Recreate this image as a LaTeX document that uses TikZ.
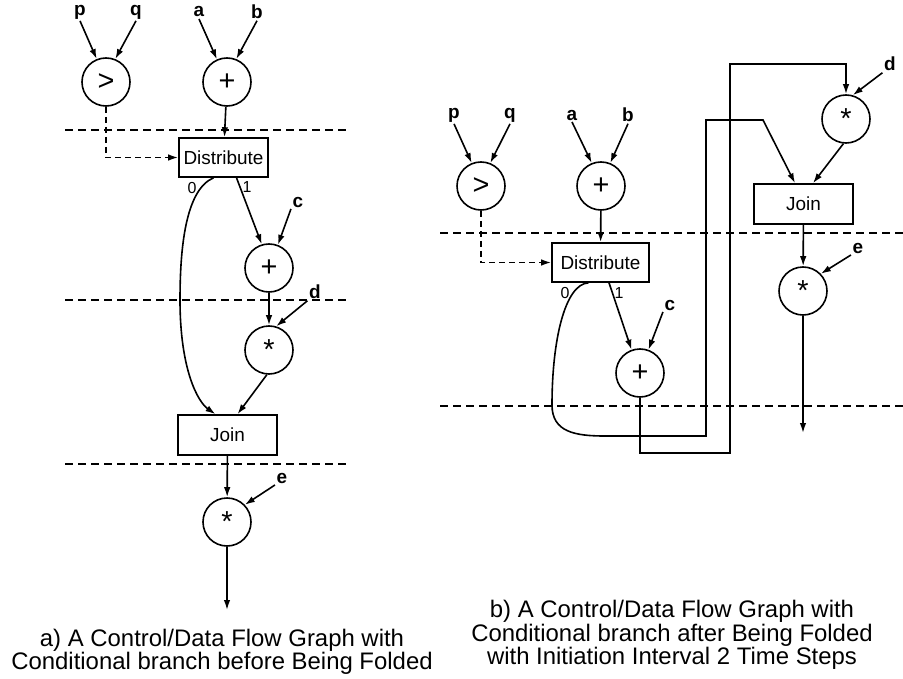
\documentclass[tikz,border=0pt]{standalone}
\usepackage{fontspec}
\setmainfont{Liberation Sans}
\usetikzlibrary{calc,arrows.meta}
\newcommand{\CapFont}{\fontsize{24}{20}\selectfont}
\newcommand{\BlkFont}{\fontsize{19}{20}\selectfont}
\newcommand{\LblFont}{\fontsize{19}{20}\selectfont\bfseries}
\newcommand{\OpFont}{\fontsize{29}{29}\selectfont}
\newcommand{\PortFont}{\fontsize{16}{18}\selectfont}
\newcommand{\Star}{\raisebox{-0.22em}{*}}

\begin{document}
\begin{tikzpicture}[x=1bp,y=-1bp, line width=1.6bp,
    opnode/.style={circle,draw,minimum size=48bp,inner sep=0pt,font=\OpFont},
    blk/.style={draw,minimum height=39bp,inner sep=0pt,font=\BlkFont},
    lbl/.style={inner sep=1bp,font=\LblFont},
    port/.style={inner sep=0pt,font=\PortFont},
    flow/.style={-{Latex[length=10bp,width=6.5bp]}},
    ctl/.style={flow,dash pattern=on 6bp off 4bp},
    stageline/.style={line width=1.3bp,dash pattern=on 8bp off 5bp}]
  \useasboundingbox (0,0) rectangle (903,679);
  % time step borders
  \foreach \yy in {130,300,464}{\draw[stageline] (65,\yy) -- (350,\yy);}
  \foreach \yy in {233,406}{\draw[stageline] (440,\yy) -- (903,\yy);}

  % a) before folding
  \foreach \nm/\xx in {p/80,q/136,a/199,b/257}{\node[lbl] (L\nm) at (\xx,12) {\nm};}
  \node[opnode] (Lgt) at (106,82) {>};
  \node[opnode] (Ladd) at (227,82) {+};
  \foreach \src/\dst/\ang in {p/gt/112,q/gt/68,a/add/114,b/add/68}{\draw[flow] (L\src.south) -- (L\dst.\ang);}
  \node[blk,minimum width=89bp] (Ldist) at (223.5,157.5) {Distribute};
  \node[port] (L0) at (192,188) {0};
  \node[port] (L1) at (247,187) {1};
  \node[opnode] (Laddc) at (269,268) {+};
  \node[opnode] (Lmuld) at (269,350) {\Star};
  \node[blk,minimum width=99bp,minimum height=40bp] (Ljoin) at (227.5,435) {Join};
  \node[opnode] (Lmule) at (227,522) {\Star};
  \node[lbl] (Lc) at (298,202) {c};
  \node[lbl] (Ld) at (315,292) {d};
  \node[lbl] (Le) at (282,478) {e};
  \coordinate (Lout) at (227,610);
  \draw[flow] (Ladd) -- (Ldist);
  \draw[ctl] (Lgt.south) |- (Ldist.west);
  \draw[flow] ($(Ldist.south)+(13,0)$) -- (Laddc.107);
  \draw[flow] (Lc.south west) -- (Laddc.69);
  \draw[flow] (Laddc) -- (Lmuld);
  \draw[flow] (Ld.south west) -- (Lmuld.73);
  \draw[flow] (Lmuld.265) -- ($(Ljoin.north)+(10,0)$);
  \draw[flow] ($(Ldist.south)+(-10,0)$) .. controls (185,190) and (180,250) .. (180,300)
    .. controls (180,370) and (198,402) .. ($(Ljoin.north)+(-12,0)$);
  \draw[flow] (Ljoin) -- (Lmule);
  \draw[flow] (Le.south west) -- (Lmule.44);
  \draw[flow] (Lmule) -- (Lout);

  % b) after folding
  \foreach \nm/\xx in {p/454,q/510,a/572,b/628}{\node[lbl] (R\nm) at (\xx,115) {\nm};}
  \node[opnode] (Rgt) at (481,186) {>};
  \node[opnode] (Radd) at (601,186) {+};
  \foreach \src/\dst/\ang in {p/gt/112,q/gt/68,a/add/112,b/add/68}{\draw[flow] (R\src.south) -- (R\dst.\ang);}
  \node[blk,minimum width=97bp] (Rdist) at (600.5,262.5) {Distribute};
  \node[port] (R0) at (565,293) {0};
  \node[port] (R1) at (619,293) {1};
  \node[opnode] (Raddc) at (640,373) {+};
  \node[opnode] (Rmuld) at (846,119) {\Star};
  \node[blk,minimum width=99bp,minimum height=40bp] (Rjoin) at (803.5,204) {Join};
  \node[opnode] (Rmule) at (803,291) {\Star};
  \node[lbl] (Rc) at (670,305) {c};
  \node[lbl] (Rd) at (890,64) {d};
  \node[lbl] (Re) at (858,248) {e};
  \coordinate (Rout) at (803,433);
  \draw[flow] (Radd) -- (Rdist);
  \draw[ctl] (Rgt.south) |- (Rdist.west);
  \draw[flow] ($(Rdist.south)+(8.5,0)$) -- (Raddc.110);
  \draw[flow] (Rc.south west) -- (Raddc.70);
  \draw[flow] (Raddc.south) |- (730,453) -- (730,64) -| (Rmuld.north);
  \draw[flow] ($(Rdist.south)+(-12,0)$) .. controls (565,284) and (552,340) .. (552,405)
    .. controls (552,432) and (575,436) .. (605,436) -| (706,120) -- (763,120) -- ($(Rjoin.north)+(-8.5,0)$);
  \draw[flow] (Rd.south west) -- (Rmuld.74);
  \draw[flow] (Rmuld.264) -- ($(Rjoin.north)+(9.5,0)$);
  \draw[flow] (Rjoin) -- (Rmule);
  \draw[flow] (Re.south west) -- (Rmule.44);
  \draw[flow] (Rmule) -- (Rout);

  \node[font=\CapFont,align=center,inner sep=0pt] (capA) at (222,652)
    {a) A Control/Data Flow Graph with\\Conditional branch before Being Folded};
  \node[font=\CapFont,align=center,inner sep=0pt] (capB) at (672,635)
    {b) A Control/Data Flow Graph with\\Conditional branch after Being Folded\\with Initiation Interval 2 Time Steps};
\end{tikzpicture}
\end{document}
